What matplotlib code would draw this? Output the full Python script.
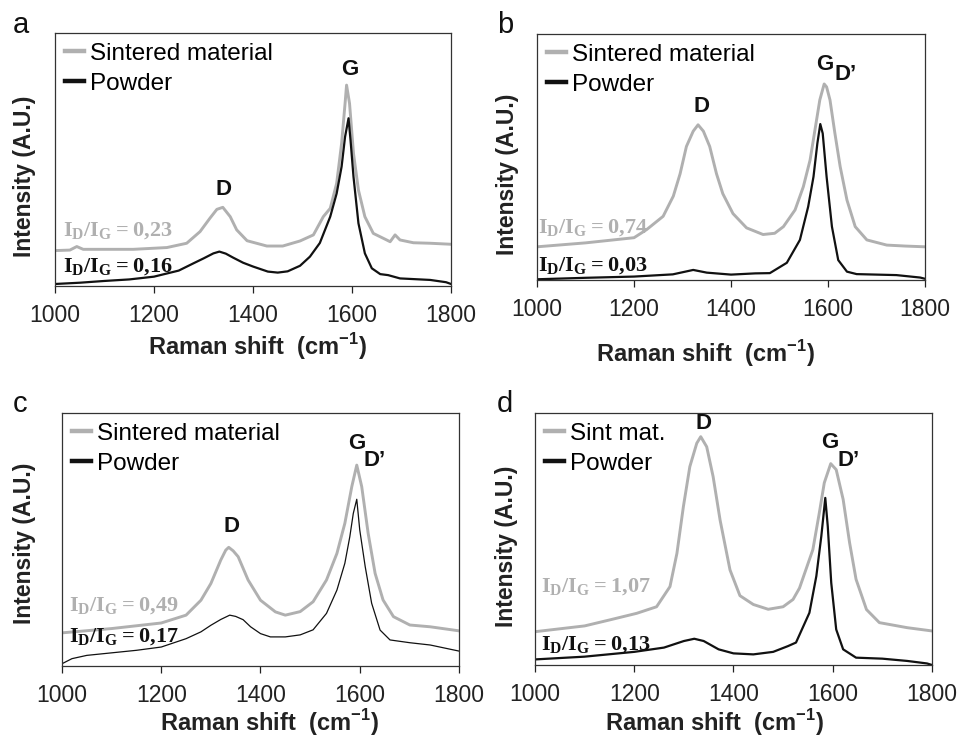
import matplotlib
matplotlib.use("Agg")
import matplotlib.pyplot as plt
from matplotlib.lines import Line2D

plt.rcParams['font.family'] = ['Liberation Sans', 'DejaVu Sans']
plt.rcParams['mathtext.fontset'] = 'custom'
plt.rcParams['mathtext.rm'] = 'Liberation Serif:bold'
plt.rcParams['mathtext.bf'] = 'Liberation Serif:bold'
plt.rcParams['mathtext.sf'] = 'Liberation Sans:bold'

GRAY = '#b0b0b0'
BLACK = '#111111'

# ---------------- data (arbitrary units) ----------------
# Panel a
a_sint_x = [1000, 1030, 1044, 1057, 1100, 1158, 1226, 1266, 1293, 1313, 1327, 1339, 1354, 1367, 1388, 1428,
            1460, 1495, 1522, 1542, 1556, 1569, 1579, 1586, 1589, 1595, 1603, 1613, 1626, 1643, 1670, 1677,
            1687, 1697, 1724, 1758, 1800]
a_sint_y = [14.0, 14.2, 15.6, 14.5, 14.5, 14.5, 15.2, 16.9, 21.5, 26.8, 30.3, 31.1, 27.4, 22.2, 17.9, 15.8,
            15.8, 17.8, 20.2, 27.4, 30.7, 40.6, 56.4, 72.2, 79.4, 72.2, 52.4, 37.9, 27.4, 20.8, 18.2, 17.5,
            20.2, 18.2, 17.1, 16.9, 16.5]
a_pow_x = [1000, 1050, 1100, 1150, 1200, 1250, 1280, 1300, 1320, 1332, 1345, 1360, 1380, 1400, 1430, 1450,
           1470, 1495, 1515, 1535, 1556, 1569, 1579, 1586, 1593, 1597, 1603, 1613, 1626, 1640, 1657, 1673,
           1697, 1758, 1790, 1800]
a_pow_y = [0.8, 1.3, 2.0, 2.6, 3.7, 6.1, 9.0, 10.9, 12.9, 13.6, 12.8, 11.2, 9.2, 7.7, 5.7, 5.3,
           5.8, 8.0, 11.6, 17.0, 27.4, 36.6, 47.2, 59.0, 66.3, 57.7, 43.2, 24.8, 12.9, 7.0, 4.7, 4.3,
           3.0, 2.4, 1.5, 0.8]

# Panel b
b_sint_x = [1000, 1100, 1200, 1226, 1260, 1281, 1295, 1308, 1322, 1332, 1343, 1356, 1370, 1383, 1404, 1432,
            1466, 1490, 1508, 1532, 1549, 1563, 1573, 1583, 1592, 1597, 1604, 1614, 1625, 1639, 1656, 1680,
            1721, 1760, 1800]
b_sint_y = [13.5, 15.1, 17.2, 20.5, 25.9, 34.1, 43.2, 54.3, 60.5, 63.1, 60.5, 54.3, 43.2, 35.1, 27.0, 21.2,
            18.5, 19.0, 21.7, 28.5, 37.9, 48.8, 61.0, 73.2, 79.7, 78.5, 73.2, 59.8, 46.1, 32.5, 21.7, 16.3,
            14.2, 13.8, 13.5]
b_pow_x = [1000, 1100, 1200, 1280, 1322, 1350, 1400, 1450, 1480, 1515, 1542, 1559, 1570, 1578, 1584, 1589,
           1597, 1608, 1621, 1639, 1659, 1741, 1790, 1800]
b_pow_y = [0.3, 0.9, 1.4, 2.3, 4.1, 3.0, 2.2, 2.7, 2.8, 7.0, 16.3, 29.8, 42.0, 55.6, 63.4, 59.6,
           42.0, 21.7, 8.1, 3.4, 2.4, 2.0, 1.0, 0.5]

# Panel c
c_sint_x = [1000, 1100, 1200, 1250, 1280, 1300, 1320, 1330, 1336, 1345, 1355, 1375, 1400, 1430, 1450, 1480,
            1506, 1533, 1554, 1570, 1584, 1594, 1604, 1617, 1631, 1647, 1668, 1701, 1742, 1800]
c_sint_y = [13.1, 14.8, 17.0, 20.1, 26.0, 32.6, 41.9, 45.8, 46.9, 45.5, 43.2, 34.0, 26.0, 21.4, 20.1, 21.5,
            25.4, 34.0, 44.5, 56.4, 70.9, 79.4, 70.9, 52.4, 36.6, 26.1, 19.5, 16.2, 15.5, 13.9]
c_pow_x = [1000, 1020, 1050, 1100, 1150, 1200, 1250, 1280, 1300, 1320, 1338, 1350, 1365, 1380, 1400, 1420,
           1450, 1480, 1506, 1533, 1554, 1570, 1580, 1587, 1594, 1600, 1611, 1624, 1641, 1661, 1701, 1742,
           1800]
c_pow_y = [0.9, 2.9, 4.2, 5.2, 6.2, 7.5, 10.8, 13.5, 16.1, 18.4, 20.1, 19.6, 18.3, 15.5, 12.8, 11.5,
           11.5, 12.3, 14.3, 20.8, 30.0, 40.6, 51.1, 60.3, 65.9, 53.8, 39.3, 24.8, 14.2, 10.3, 9.2, 8.3,
           5.9]

# Panel d
d_sint_x = [1000, 1100, 1151, 1205, 1245, 1272, 1286, 1299, 1312, 1326, 1334, 1346, 1359, 1373, 1393, 1413,
            1440, 1470, 1500, 1520, 1533, 1560, 1573, 1583, 1596, 1607, 1621, 1634, 1647, 1668, 1694, 1750,
            1800]
d_sint_y = [13.2, 15.5, 17.9, 20.5, 23.1, 31.1, 44.3, 62.8, 78.7, 88.0, 90.6, 86.6, 74.7, 57.5, 37.7, 27.5,
            24.0, 22.1, 23.1, 26.0, 30.5, 45.8, 60.4, 72.3, 79.9, 77.5, 65.7, 48.5, 34.0, 22.0, 16.8, 14.8,
            13.5]
d_pow_x = [1000, 1100, 1200, 1260, 1300, 1321, 1340, 1370, 1400, 1440, 1480, 1510, 1526, 1553, 1567, 1577,
           1585, 1590, 1597, 1607, 1621, 1647, 1700, 1750, 1790, 1800]
d_pow_y = [2.2, 3.3, 5.2, 6.9, 9.5, 10.4, 9.5, 6.2, 4.6, 4.2, 5.2, 7.5, 8.9, 20.7, 35.3, 51.1,
           66.3, 55.0, 32.6, 14.1, 6.2, 2.9, 2.5, 1.6, 0.6, 0.0]

panels = [
    dict(letter='a', letter_px=(13, 33), rect=[0.0573, 0.6135, 0.4125, 0.3419],
         sx=a_sint_x, sy=a_sint_y, px=a_pow_x, py=a_pow_y, plw=1.6,
         leg=['Sintered material', 'Powder'],
         xlab=(0.511, -0.178), ylab=(-0.048, 0.433),
         peaks=[('G', 1596, 85.5), ('D', 1340, 38.0)],
         r_sint='0{,}23', r_sint_pos=(1017, 22.0), r_pow='0{,}16', r_pow_pos=(1017, 7.6)),
    dict(letter='b', letter_px=(497, 33), rect=[0.5594, 0.6216, 0.4042, 0.3324],
         sx=b_sint_x, sy=b_sint_y, px=b_pow_x, py=b_pow_y, plw=1.6,
         leg=['Sintered material', 'Powder'],
         xlab=(0.434, -0.236), ylab=(-0.046, 0.431),
         peaks=[('D', 1339, 70.5), ('G', 1594, 87.8), ("D\u2019", 1637, 83.6)],
         r_sint='0{,}74', r_sint_pos=(1003, 21.2), r_pow='0{,}03', r_pow_pos=(1003, 5.7)),
    dict(letter='c', letter_px=(13, 412), rect=[0.0646, 0.1000, 0.4135, 0.3419],
         sx=c_sint_x, sy=c_sint_y, px=c_pow_x, py=c_pow_y, plw=0.9,
         leg=['Sintered material', 'Powder'],
         xlab=(0.523, -0.162), ylab=(-0.0655, 0.486),
         peaks=[('D', 1342, 55.1), ('G', 1594, 88.0), ("D\u2019", 1630, 81.2)],
         r_sint='0{,}49', r_sint_pos=(1015, 24.0), r_pow='0{,}17', r_pow_pos=(1015, 11.5)),
    dict(letter='d', letter_px=(497, 412), rect=[0.5573, 0.1014, 0.4135, 0.3405],
         sx=d_sint_x, sy=d_sint_y, px=d_pow_x, py=d_pow_y, plw=1.6,
         leg=['Sint mat.', 'Powder'],
         xlab=(0.453, -0.168), ylab=(-0.043, 0.472),
         peaks=[('D', 1340, 95.8), ('G', 1594, 88.4), ("D\u2019", 1632, 81.2)],
         r_sint='1{,}07', r_sint_pos=(1012, 31.3), r_pow='0{,}13', r_pow_pos=(1012, 8.2)),
]

fig = plt.figure(figsize=(9.6, 7.4), dpi=100)

for p in panels:
    ax = fig.add_axes(p['rect'])
    ax.plot(p['sx'], p['sy'], color=GRAY, lw=2.1, solid_joinstyle='round')
    ax.plot(p['px'], p['py'], color=BLACK, lw=p['plw'], solid_joinstyle='round')
    ax.set_xlim(1000, 1800)
    ax.set_ylim(0, 100)
    ax.set_xticks([1000, 1200, 1400, 1600, 1800])
    ax.set_yticks([])
    ax.tick_params(axis='x', direction='out', length=5, width=0.9, labelsize=16.5, pad=8, colors='#222222')
    for s in ax.spines.values():
        s.set_linewidth(0.9)
        s.set_color('#333333')
    ax.set_xlabel(r'Raman shift  (cm$^{\mathsf{-1}}$)', fontsize=17, fontweight='bold', color='#222222')
    ax.xaxis.set_label_coords(*p['xlab'])
    ax.set_ylabel('Intensity (A.U.)', fontsize=16.5, fontweight='bold', color='#222222')
    ax.yaxis.set_label_coords(*p['ylab'])
    handles = [Line2D([], [], color=GRAY, lw=3.2), Line2D([], [], color=BLACK, lw=3.2)]
    ax.legend(handles, p['leg'], loc='upper left', frameon=False, fontsize=17.5,
              handlelength=0.8, handletextpad=0.25, labelspacing=0.33,
              borderaxespad=0.0, borderpad=0.4, bbox_to_anchor=(0.0, 1.0))
    for lab, x, y in p['peaks']:
        ax.text(x, y, lab, ha='center', va='center', fontsize=16, fontweight='bold', color='#111111')
    ax.text(p['r_sint_pos'][0], p['r_sint_pos'][1],
            r'$\mathbf{I_D/I_G = ' + p['r_sint'] + '}$',
            color=GRAY, fontsize=16, ha='left', va='center')
    ax.text(p['r_pow_pos'][0], p['r_pow_pos'][1],
            r'$\mathbf{I_D/I_G = ' + p['r_pow'] + '}$',
            color=BLACK, fontsize=16, ha='left', va='center')
    lx, ly = p['letter_px']
    fig.text(lx / 960, 1 - ly / 740, p['letter'], fontsize=21, ha='left', va='baseline', color='#111111')

fig.savefig('out.png', dpi=100)
